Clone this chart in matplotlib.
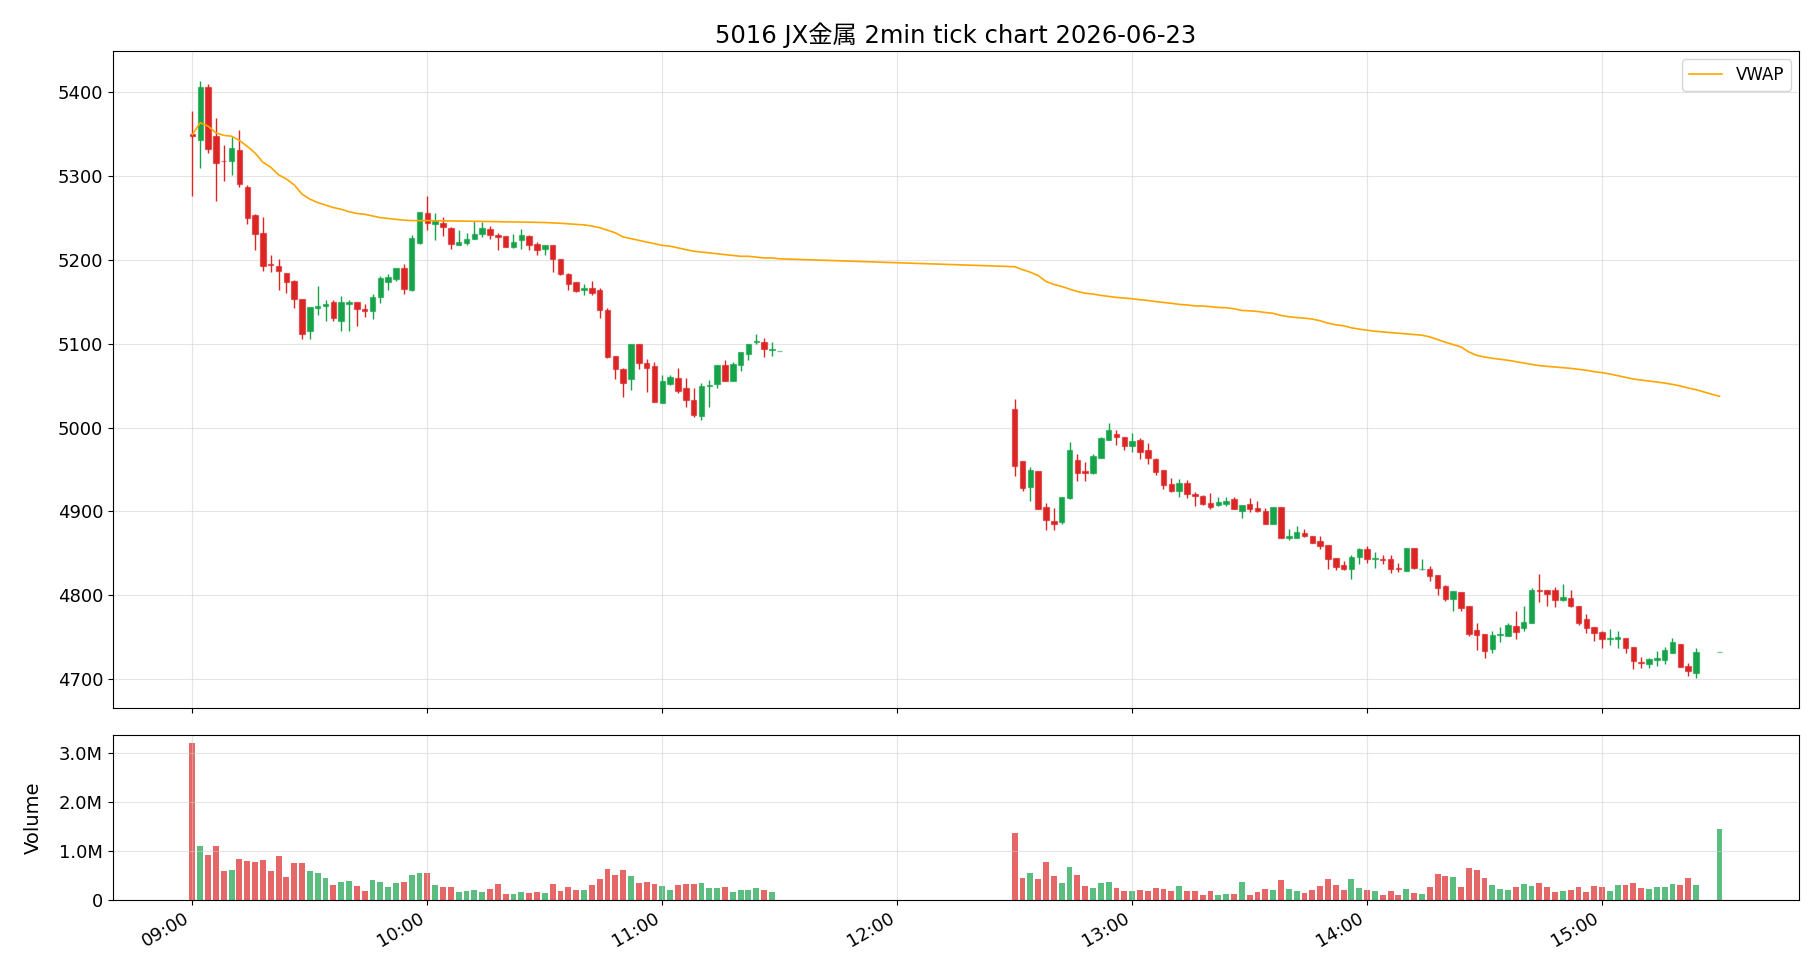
import numpy as np
import pandas as pd
import matplotlib
matplotlib.use('Agg')
import matplotlib.pyplot as plt
import matplotlib.dates as mdates
from matplotlib.ticker import FuncFormatter

plt.rcParams['font.family'] = ['DejaVu Sans', 'Noto Sans CJK JP']

title = '5016 JX金属 2min tick chart 2026-06-23'
day = '2026-06-23'

# morning session 09:00 - 11:30 (2 min bars)
am_open = [5350, 5342, 5406, 5347, 5318, 5317, 5331, 5286, 5253, 5232,
           5195, 5193, 5184, 5175, 5153, 5115, 5142, 5145, 5149, 5127,
           5147, 5150, 5141, 5139, 5155, 5173, 5177, 5190, 5164, 5220,
           5255, 5242, 5244, 5238, 5218, 5220, 5224, 5230, 5237, 5229,
           5228, 5215, 5223, 5228, 5219, 5213, 5217, 5201, 5183, 5173,
           5164, 5166, 5164, 5140, 5085, 5070, 5058, 5099, 5077, 5073,
           5029, 5052, 5059, 5047, 5033, 5014, 5049, 5052, 5074, 5056,
           5075, 5088, 5102, 5102, 5092, 5091]
am_high = [5377, 5413, 5409, 5369, 5336, 5346, 5354, 5289, 5254, 5251,
           5206, 5201, 5184, 5176, 5153, 5144, 5169, 5152, 5152, 5157,
           5152, 5150, 5147, 5159, 5180, 5183, 5190, 5195, 5229, 5257,
           5276, 5255, 5251, 5239, 5235, 5232, 5246, 5245, 5240, 5232,
           5228, 5231, 5236, 5229, 5221, 5218, 5217, 5201, 5184, 5173,
           5171, 5175, 5166, 5142, 5085, 5071, 5099, 5099, 5082, 5078,
           5062, 5063, 5071, 5059, 5047, 5053, 5057, 5075, 5081, 5078,
           5090, 5099, 5111, 5107, 5102, 5091]
am_low = [5276, 5309, 5327, 5270, 5294, 5301, 5287, 5242, 5211, 5187,
          5185, 5164, 5160, 5142, 5105, 5105, 5134, 5127, 5127, 5115,
          5115, 5121, 5132, 5129, 5148, 5164, 5174, 5159, 5163, 5219,
          5235, 5223, 5228, 5213, 5217, 5217, 5224, 5227, 5225, 5211,
          5215, 5214, 5213, 5211, 5205, 5205, 5185, 5182, 5164, 5161,
          5158, 5158, 5130, 5083, 5058, 5036, 5045, 5070, 5042, 5030,
          5029, 5051, 5041, 5025, 5013, 5009, 5024, 5047, 5055, 5055,
          5067, 5081, 5099, 5084, 5085, 5091]
am_close = [5347, 5406, 5332, 5315, 5317, 5333, 5290, 5249, 5230, 5193,
            5194, 5186, 5173, 5153, 5112, 5143, 5145, 5147, 5130, 5149,
            5150, 5141, 5139, 5156, 5178, 5179, 5190, 5165, 5226, 5257,
            5244, 5246, 5239, 5219, 5221, 5225, 5230, 5238, 5229, 5227,
            5215, 5221, 5229, 5218, 5212, 5217, 5201, 5183, 5171, 5163,
            5166, 5160, 5140, 5084, 5070, 5053, 5099, 5077, 5071, 5030,
            5056, 5060, 5043, 5033, 5015, 5049, 5051, 5074, 5056, 5076,
            5090, 5099, 5103, 5093, 5094, 5091]
am_volume = [3200000, 1090000, 905000, 1090000, 578000, 599000, 823000, 782000, 762000, 803000,
             578000, 884000, 456000, 741000, 741000, 578000, 537000, 435000, 293000, 354000,
             374000, 272000, 170000, 395000, 354000, 252000, 333000, 354000, 497000, 537000,
             537000, 293000, 252000, 252000, 150000, 170000, 190000, 150000, 211000, 313000,
             109000, 109000, 150000, 129000, 150000, 129000, 313000, 170000, 252000, 190000,
             190000, 293000, 415000, 619000, 497000, 599000, 476000, 333000, 354000, 313000,
             272000, 190000, 293000, 313000, 313000, 333000, 231000, 231000, 252000, 150000,
             190000, 190000, 231000, 190000, 150000, 0]
am_vwap = [5349, 5363, 5359, 5351, 5348, 5347, 5342, 5335, 5327, 5316,
           5310, 5301, 5296, 5289, 5278, 5272, 5268, 5265, 5262, 5260,
           5257, 5255, 5254, 5252, 5250, 5249, 5248, 5247, 5246.5, 5246.5,
           5246.5, 5246.3, 5246.2, 5246.1, 5246, 5245.8, 5245.7, 5245.5, 5245.4, 5245.2,
           5245, 5244.9, 5244.8, 5244.6, 5244.4, 5244.2, 5243.8, 5243.3, 5242.6, 5242,
           5241.4, 5240, 5238, 5235, 5232, 5227, 5225, 5223, 5221, 5219,
           5217, 5216, 5214, 5212, 5210, 5209, 5208, 5207, 5206, 5205,
           5204, 5204, 5203, 5202, 5202, 5201]

# afternoon session 12:30 - 15:24, then closing auction at 15:30
pm_open = [5022, 4960, 4929, 4948, 4905, 4889, 4888, 4916, 4961, 4948,
           4946, 4964, 4985, 4992, 4989, 4978, 4985, 4973, 4962, 4949,
           4933, 4925, 4934, 4921, 4919, 4910, 4908, 4909, 4915, 4901,
           4909, 4904, 4901, 4885, 4905, 4869, 4869, 4874, 4871, 4865,
           4860, 4845, 4836, 4831, 4846, 4855, 4843, 4844, 4843, 4833,
           4829, 4856, 4831, 4831, 4824, 4811, 4796, 4804, 4787, 4759,
           4754, 4736, 4753, 4752, 4764, 4761, 4767, 4807, 4807, 4807,
           4795, 4797, 4787, 4772, 4763, 4757, 4748, 4748, 4749, 4739,
           4721, 4718, 4723, 4723, 4732, 4742, 4716, 4708, 4733]
pm_high = [5034, 4960, 4953, 4948, 4910, 4904, 4917, 4983, 4969, 4959,
           4969, 4989, 5006, 4997, 4989, 4994, 4987, 4981, 4964, 4949,
           4940, 4939, 4938, 4923, 4920, 4922, 4917, 4917, 4917, 4908,
           4916, 4912, 4904, 4905, 4905, 4879, 4883, 4879, 4871, 4871,
           4860, 4845, 4841, 4848, 4857, 4859, 4852, 4848, 4848, 4839,
           4857, 4856, 4843, 4835, 4824, 4813, 4805, 4804, 4787, 4767,
           4754, 4758, 4763, 4767, 4781, 4788, 4809, 4825, 4807, 4810,
           4814, 4806, 4787, 4778, 4763, 4758, 4760, 4758, 4749, 4739,
           4727, 4726, 4734, 4739, 4749, 4742, 4719, 4737, 4733]
pm_low = [4942, 4924, 4912, 4903, 4878, 4878, 4885, 4915, 4936, 4936,
          4945, 4964, 4985, 4979, 4973, 4971, 4963, 4956, 4943, 4927,
          4923, 4917, 4916, 4907, 4908, 4903, 4907, 4906, 4903, 4892,
          4899, 4899, 4885, 4885, 4868, 4866, 4869, 4870, 4862, 4855,
          4832, 4830, 4830, 4820, 4838, 4839, 4833, 4837, 4827, 4828,
          4829, 4831, 4830, 4817, 4800, 4793, 4781, 4781, 4752, 4735,
          4725, 4732, 4744, 4752, 4748, 4758, 4767, 4792, 4788, 4786,
          4793, 4786, 4765, 4755, 4746, 4737, 4741, 4738, 4731, 4712,
          4713, 4713, 4716, 4718, 4731, 4715, 4704, 4702, 4733]
pm_close = [4954, 4928, 4950, 4903, 4890, 4885, 4917, 4973, 4946, 4946,
            4966, 4987, 4997, 4989, 4978, 4984, 4971, 4964, 4947, 4932,
            4925, 4934, 4921, 4919, 4909, 4905, 4911, 4913, 4903, 4908,
            4903, 4901, 4885, 4905, 4869, 4871, 4875, 4871, 4863, 4859,
            4843, 4834, 4831, 4846, 4855, 4843, 4845, 4842, 4831, 4831,
            4857, 4833, 4832, 4823, 4809, 4796, 4805, 4785, 4754, 4753,
            4734, 4753, 4754, 4765, 4756, 4768, 4807, 4805, 4802, 4795,
            4798, 4787, 4767, 4761, 4755, 4748, 4749, 4750, 4737, 4722,
            4719, 4724, 4725, 4735, 4744, 4715, 4710, 4733, 4733]
pm_volume = [1374000, 435000, 537000, 415000, 762000, 476000, 333000, 660000, 497000, 272000,
             231000, 333000, 354000, 231000, 170000, 170000, 190000, 170000, 231000, 211000,
             170000, 272000, 170000, 170000, 88000, 170000, 88000, 109000, 109000, 354000,
             88000, 150000, 211000, 190000, 395000, 211000, 170000, 129000, 190000, 272000,
             415000, 293000, 190000, 415000, 231000, 190000, 170000, 88000, 170000, 88000,
             211000, 129000, 109000, 252000, 517000, 476000, 456000, 252000, 639000, 599000,
             435000, 293000, 211000, 190000, 252000, 313000, 272000, 333000, 252000, 150000,
             170000, 190000, 252000, 150000, 272000, 252000, 170000, 293000, 293000, 333000,
             231000, 211000, 252000, 252000, 313000, 293000, 435000, 293000, 1456000]
pm_vwap = [5191.6, 5188, 5185, 5181, 5174, 5170.5, 5168, 5165, 5162, 5160,
           5159, 5157.4, 5156.2, 5155, 5154.2, 5153.4, 5152.2, 5151.4, 5150, 5149,
           5148, 5146.7, 5146, 5145, 5144.7, 5144, 5143, 5142.7, 5141.5, 5139.5,
           5139, 5138.3, 5137, 5136, 5133.5, 5132, 5131, 5130.3, 5129.2, 5127.2,
           5124.4, 5122.4, 5121.2, 5118.8, 5117.2, 5116, 5114.7, 5113.9, 5113.1, 5112.3,
           5111.5, 5110.7, 5110, 5108, 5104.8, 5101.6, 5098.8, 5096, 5090, 5086,
           5084, 5082.5, 5081.3, 5080.1, 5078.5, 5076.9, 5075.3, 5073.7, 5072.9, 5072.1,
           5071.3, 5070.5, 5069.4, 5068.2, 5066.6, 5065.4, 5063.8, 5061.8, 5059.8, 5057.8,
           5056.6, 5055.4, 5054.2, 5053, 5051.4, 5049.5, 5047.1, 5045.1, 5037.1]

# bar timestamps
am_times = pd.date_range(day + ' 09:00', day + ' 11:30', freq='2min')
pm_times = pd.date_range(day + ' 12:30', day + ' 15:24', freq='2min').append(pd.DatetimeIndex([day + ' 15:30']))

df = pd.DataFrame({
    'time': am_times.append(pm_times),
    'open': am_open + pm_open,
    'high': am_high + pm_high,
    'low': am_low + pm_low,
    'close': am_close + pm_close,
    'volume': am_volume + pm_volume,
    'vwap': am_vwap + pm_vwap,
})

up_color = '#16a34a'
down_color = '#dc2626'
x = mdates.date2num(df['time'])
colors = np.where(df['close'] >= df['open'], up_color, down_color)
one_min = 1.0 / 1440

fig = plt.figure(figsize=(18.2, 9.8), dpi=100)
gs = fig.add_gridspec(2, 1, height_ratios=[4, 1], hspace=0.068,
                      left=0.062, right=0.9885, top=0.948, bottom=0.082)
ax = fig.add_subplot(gs[0])
axv = fig.add_subplot(gs[1], sharex=ax)

# candles
ax.vlines(x, df['low'], df['high'], colors=colors, linewidth=1.0, zorder=2)
ax.bar(x, df['close'] - df['open'], bottom=df['open'], width=1.4 * one_min,
       color=colors, edgecolor=[matplotlib.colors.to_rgba(c, 0.6) for c in colors],
       linewidth=0.9, zorder=3)
ax.plot(x, df['vwap'], color='orange', linewidth=1.2, label='VWAP', zorder=4)

ax.set_title(title, fontsize=17.5)
ax.grid(True, color='#cccccc', alpha=0.5, linewidth=0.8)
ax.legend(loc='upper right', fontsize=12)
ax.tick_params(labelsize=13, labelbottom=False)

# volume
axv.bar(x, df['volume'], width=1.5 * one_min, color=colors, alpha=0.7)
axv.set_ylabel('Volume', fontsize=14, labelpad=12)
axv.grid(True, color='#cccccc', alpha=0.5, linewidth=0.8)
axv.yaxis.set_major_formatter(FuncFormatter(lambda v, p: '0' if v == 0 else f'{v / 1e6:.1f}M'))
axv.yaxis.set_major_locator(matplotlib.ticker.MultipleLocator(1e6))
axv.tick_params(labelsize=13)

axv.xaxis.set_major_locator(mdates.HourLocator())
axv.xaxis.set_major_formatter(mdates.DateFormatter('%H:%M'))
for label in axv.get_xticklabels():
    label.set_rotation(30)
    label.set_horizontalalignment('right')

fig.savefig('out.png', dpi=100)
